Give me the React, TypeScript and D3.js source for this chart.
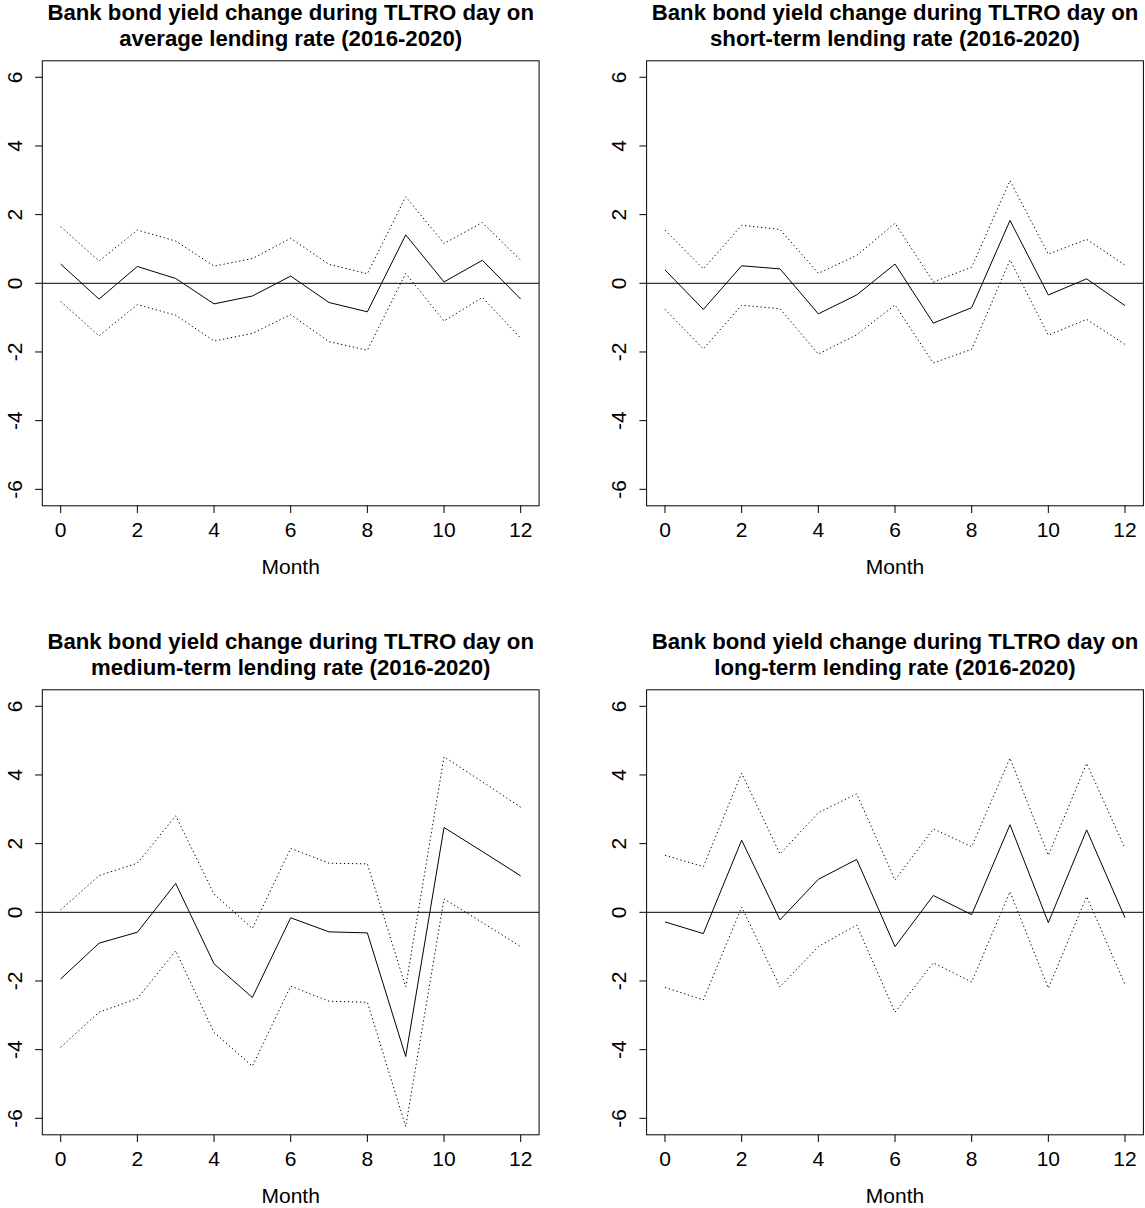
import React from "react";
import * as d3 from "d3";

const months = [0, 1, 2, 3, 4, 5, 6, 7, 8, 9, 10, 11, 12];
const xTicks = [0, 2, 4, 6, 8, 10, 12];
const yTicks = [-6, -4, -2, 0, 2, 4, 6];

const titlesLine1 = [
  "Bank bond yield change during TLTRO day on",
  "Bank bond yield change during TLTRO day on",
  "Bank bond yield change during TLTRO day on",
  "Bank bond yield change during TLTRO day on",
];
const titlesLine2 = [
  "average lending rate (2016-2020)",
  "short-term lending rate (2016-2020)",
  "medium-term lending rate (2016-2020)",
  "long-term lending rate (2016-2020)",
];

// average lending rate
const avgMean = [0.56, -0.46, 0.49, 0.14, -0.6, -0.37, 0.21, -0.56, -0.83, 1.41, 0.04, 0.67, -0.46];
const avgUpper = [1.65, 0.65, 1.55, 1.23, 0.5, 0.72, 1.31, 0.55, 0.28, 2.52, 1.16, 1.77, 0.67];
const avgLower = [-0.53, -1.53, -0.62, -0.93, -1.68, -1.46, -0.91, -1.7, -1.95, 0.29, -1.1, -0.41, -1.6];

// short-term lending rate
const shortMean = [0.39, -0.76, 0.51, 0.42, -0.89, -0.34, 0.56, -1.16, -0.71, 1.83, -0.34, 0.13, -0.65];
const shortUpper = [1.55, 0.42, 1.69, 1.57, 0.29, 0.81, 1.75, 0.04, 0.47, 2.99, 0.85, 1.28, 0.53];
const shortLower = [-0.76, -1.91, -0.64, -0.74, -2.06, -1.5, -0.63, -2.32, -1.92, 0.68, -1.51, -1.05, -1.78];

// medium-term lending rate
const medMean = [-1.94, -0.9, -0.58, 0.84, -1.5, -2.48, -0.16, -0.57, -0.6, -4.2, 2.47, 1.77, 1.06];
const medUpper = [0.07, 1.07, 1.43, 2.81, 0.53, -0.47, 1.86, 1.43, 1.41, -2.17, 4.53, 3.8, 3.06];
const medLower = [-3.93, -2.91, -2.51, -1.12, -3.5, -4.48, -2.15, -2.59, -2.62, -6.24, 0.39, -0.3, -1.0];

// long-term lending rate
const longMean = [-0.28, -0.62, 2.1, -0.22, 0.96, 1.54, -1.0, 0.49, -0.07, 2.55, -0.3, 2.4, -0.16];
const longUpper = [1.66, 1.33, 4.05, 1.7, 2.9, 3.45, 0.94, 2.43, 1.91, 4.49, 1.66, 4.34, 1.86];
const longLower = [-2.19, -2.55, 0.15, -2.17, -1.0, -0.37, -2.91, -1.47, -2.03, 0.6, -2.21, 0.46, -2.1];

const panelsMean = [avgMean, shortMean, medMean, longMean];
const panelsUpper = [avgUpper, shortUpper, medUpper, longUpper];
const panelsLower = [avgLower, shortLower, medLower, longLower];

const offsets: [number, number][] = [
  [0, 0],
  [604.3, 0],
  [0, 629],
  [604.3, 629],
];

const FONT = "'Liberation Sans', Arial, sans-serif";

function Panel({ idx }: { idx: number }) {
  const [ox, oy] = offsets[idx];
  const x = d3.scaleLinear().domain([-0.48, 12.48]).range([42.3, 539.1]);
  const y = d3.scaleLinear().domain([-6.48, 6.48]).range([505.8, 60.8]);
  const line = d3
    .line<number>()
    .x((_, i) => x(months[i]))
    .y((d) => y(d));
  const cx = (x.range()[0] + x.range()[1]) / 2;
  return (
    <g transform={`translate(${ox},${oy})`}>
      <text x={cx} y={19.5} textAnchor="middle" fontFamily={FONT} fontWeight="bold" fontSize={22.2} fill="#000">
        {titlesLine1[idx]}
      </text>
      <text x={cx} y={45.7} textAnchor="middle" fontFamily={FONT} fontWeight="bold" fontSize={22.2} fill="#000">
        {titlesLine2[idx]}
      </text>
      <line x1={x(-0.48)} x2={x(12.48)} y1={y(0)} y2={y(0)} stroke="#000" strokeWidth={1} />
      <path d={line(panelsMean[idx]) || ""} fill="none" stroke="#000" strokeWidth={1} />
      <path d={line(panelsUpper[idx]) || ""} fill="none" stroke="#000" strokeWidth={1} strokeDasharray="1.3,2.7" />
      <path d={line(panelsLower[idx]) || ""} fill="none" stroke="#000" strokeWidth={1} strokeDasharray="1.3,2.7" />
      <rect
        x={x.range()[0]}
        y={y.range()[1]}
        width={x.range()[1] - x.range()[0]}
        height={y.range()[0] - y.range()[1]}
        fill="none"
        stroke="#000"
        strokeWidth={1}
      />
      {xTicks.map((t) => (
        <g key={"x" + t}>
          <line x1={x(t)} x2={x(t)} y1={y.range()[0]} y2={y.range()[0] + 7.2} stroke="#000" strokeWidth={1} />
          <text x={x(t)} y={537} textAnchor="middle" fontFamily={FONT} fontSize={21} fill="#000">
            {t}
          </text>
        </g>
      ))}
      {yTicks.map((t) => (
        <g key={"y" + t}>
          <line x1={x.range()[0] - 7.2} x2={x.range()[0]} y1={y(t)} y2={y(t)} stroke="#000" strokeWidth={1} />
          <text
            transform={`translate(22,${y(t)}) rotate(-90)`}
            textAnchor="middle"
            fontFamily={FONT}
            fontSize={21}
            fill="#000"
          >
            {t}
          </text>
        </g>
      ))}
      <text x={cx} y={574} textAnchor="middle" fontFamily={FONT} fontSize={21} fill="#000">
        Month
      </text>
    </g>
  );
}

export default function App() {
  return (
    <svg
      width={1145}
      height={1208}
      style={{ position: "absolute", left: 0, top: 0, background: "#fff" }}
    >
      <rect x={0} y={0} width={1145} height={1208} fill="#fff" />
      {[0, 1, 2, 3].map((i) => (
        <Panel key={i} idx={i} />
      ))}
    </svg>
  );
}
